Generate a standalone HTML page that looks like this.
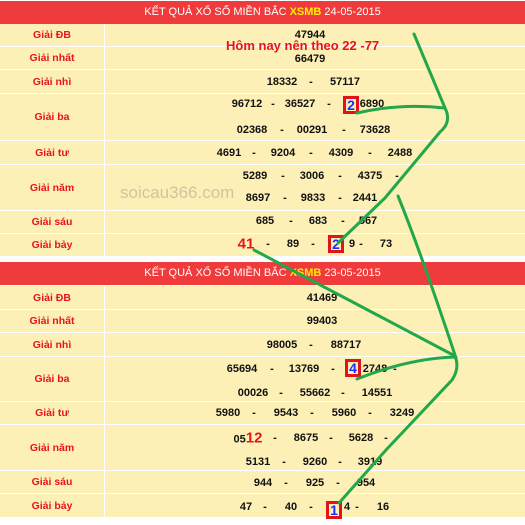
<!DOCTYPE html>
<html><head><meta charset="utf-8"><style>
body{margin:0;width:525px;height:525px;background:#fff;position:relative;overflow:hidden;font-family:"Liberation Sans",sans-serif}
.hdr{position:absolute;left:0;width:525px;height:23px;background:#ef3b3b;color:#fff;font-size:11px;text-align:center;line-height:23px}
.hdr b{color:#ffee00;font-weight:bold}
.row{position:absolute;left:0;width:525px;background:#fdf0b6;border-bottom:1px solid #fff}
.lab{position:absolute;left:0;width:104px;border-right:1px solid #fff;height:100%;color:#e8141a;font-size:10.5px;font-weight:bold;display:flex;align-items:center;justify-content:center}
.n{position:absolute;font-size:11px;font-weight:bold;color:#111;transform:translate(-50%,-50%);white-space:nowrap}
.big{color:#e8141a;font-size:15px}
.box{position:absolute;border:3px solid #e0141a;background:#fdf0b6;color:#1a2cff;font-weight:bold;font-size:14px;text-align:center;line-height:12px;width:10px;height:12px}
</style></head><body>
<div class="hdr" style="top:1px">KẾT QUẢ XỔ SỐ MIỀN BẮC <b>XSMB</b> 24-05-2015</div>
<div class="row" style="top:24px;height:22px"><div class="lab">Giải ĐB</div></div>
<div class="row" style="top:47px;height:22px"><div class="lab">Giải nhất</div></div>
<div class="row" style="top:70px;height:23px"><div class="lab">Giải nhì</div></div>
<div class="row" style="top:94px;height:46px"><div class="lab">Giải ba</div></div>
<div class="row" style="top:141px;height:23px"><div class="lab">Giải tư</div></div>
<div class="row" style="top:165px;height:45px"><div class="lab">Giải năm</div></div>
<div class="row" style="top:211px;height:22px"><div class="lab">Giải sáu</div></div>
<div class="row" style="top:234px;height:22px"><div class="lab">Giải bảy</div></div>

<div class="hdr" style="top:262px">KẾT QUẢ XỔ SỐ MIỀN BẮC <b>XSMB</b> 23-05-2015</div>
<div class="row" style="top:286px;height:23px"><div class="lab">Giải ĐB</div></div>
<div class="row" style="top:310px;height:22px"><div class="lab">Giải nhất</div></div>
<div class="row" style="top:333px;height:23px"><div class="lab">Giải nhì</div></div>
<div class="row" style="top:357px;height:44px"><div class="lab">Giải ba</div></div>
<div class="row" style="top:402px;height:22px"><div class="lab">Giải tư</div></div>
<div class="row" style="top:425px;height:45px"><div class="lab">Giải năm</div></div>
<div class="row" style="top:471px;height:22px"><div class="lab">Giải sáu</div></div>
<div class="row" style="top:494px;height:23px"><div class="lab">Giải bảy</div></div>

<div id="nums"></div>
<div style="position:absolute;left:226px;top:38px;color:#e8141a;font-weight:bold;font-size:13px">Hôm nay nên theo 22 -77</div>
<div style="position:absolute;left:120px;top:183px;color:#cfc4a0;font-size:17px">soicau366.com</div>

<div class="box" style="left:343px;top:96px">2</div>
<div class="box" style="left:328px;top:235px">2</div>
<div class="box" style="left:345px;top:359px">4</div>
<div class="box" style="left:326px;top:501px">1</div>

<svg width="525" height="525" style="position:absolute;left:0;top:0">
<g fill="none" stroke="#22a84a" stroke-width="3" stroke-linecap="round">
<path d="M414,34 L445,108 Q452,122 440,132 L385,198 L338,243"/>
<path d="M357,113 Q400,103 445,108"/>
<path d="M254,250 L455,356 Q460,368 452,380 L386,450 L339,503"/>
<path d="M357,379 Q410,358 456,357"/>
<path d="M398,196 Q420,250 455,355"/>
</g></svg>

<script>
const items=[
[310,35,"47944"],[310,59,"66479"],
[282,82,"18332"],[311,82,"-"],[345,82,"57117"],
[247,104,"96712"],[273,104,"-"],[300,104,"36527"],[329,104,"-"],[372,104,"6890"],
[252,130,"02368"],[282,130,"-"],[312,130,"00291"],[344,130,"-"],[375,130,"73628"],
[229,153,"4691"],[254,153,"-"],[283,153,"9204"],[311,153,"-"],[341,153,"4309"],[370,153,"-"],[400,153,"2488"],
[255,176,"5289"],[283,176,"-"],[312,176,"3006"],[340,176,"-"],[370,176,"4375"],[397,176,"-"],
[258,198,"8697"],[285,198,"-"],[313,198,"9833"],[340,198,"-"],[365,198,"2441"],
[265,221,"685"],[291,221,"-"],[318,221,"683"],[343,221,"-"],[368,221,"567"],
[268,244,"-"],[293,244,"89"],[313,244,"-"],[352,244,"9"],[361,244,"-"],[386,244,"73"],
[322,298,"41469"],[322,321,"99403"],
[282,345,"98005"],[311,345,"-"],[346,345,"88717"],
[242,369,"65694"],[272,369,"-"],[304,369,"13769"],[333,369,"-"],[375,369,"2748"],[395,369,"-"],
[253,393,"00026"],[281,393,"-"],[315,393,"55662"],[343,393,"-"],[377,393,"14551"],
[228,413,"5980"],[254,413,"-"],[286,413,"9543"],[312,413,"-"],[344,413,"5960"],[370,413,"-"],[402,413,"3249"],
[275,438,"-"],[306,438,"8675"],[331,438,"-"],[361,438,"5628"],[386,438,"-"],
[258,462,"5131"],[284,462,"-"],[315,462,"9260"],[340,462,"-"],[370,462,"3919"],
[263,483,"944"],[286,483,"-"],[315,483,"925"],[338,483,"-"],[366,483,"954"],
[246,507,"47"],[265,507,"-"],[291,507,"40"],[311,507,"-"],[347,507,"4"],[357,507,"-"],[383,507,"16"]
];
const c=document.getElementById('nums');
items.forEach(([x,y,t])=>{const s=document.createElement('span');s.className='n';s.style.left=x+'px';s.style.top=y+'px';s.textContent=t;


c.appendChild(s);});
[[246,244,"41"],[248,438,"05"]].forEach(([x,y,t],i)=>{const s=document.createElement('span');s.className='n';s.style.left=x+'px';s.style.top=y+'px';
if(i==0){s.innerHTML='<span class="big">41</span>';}else{s.innerHTML='05<span class="big">12</span>';}


c.appendChild(s);});
</script>
</body></html>
